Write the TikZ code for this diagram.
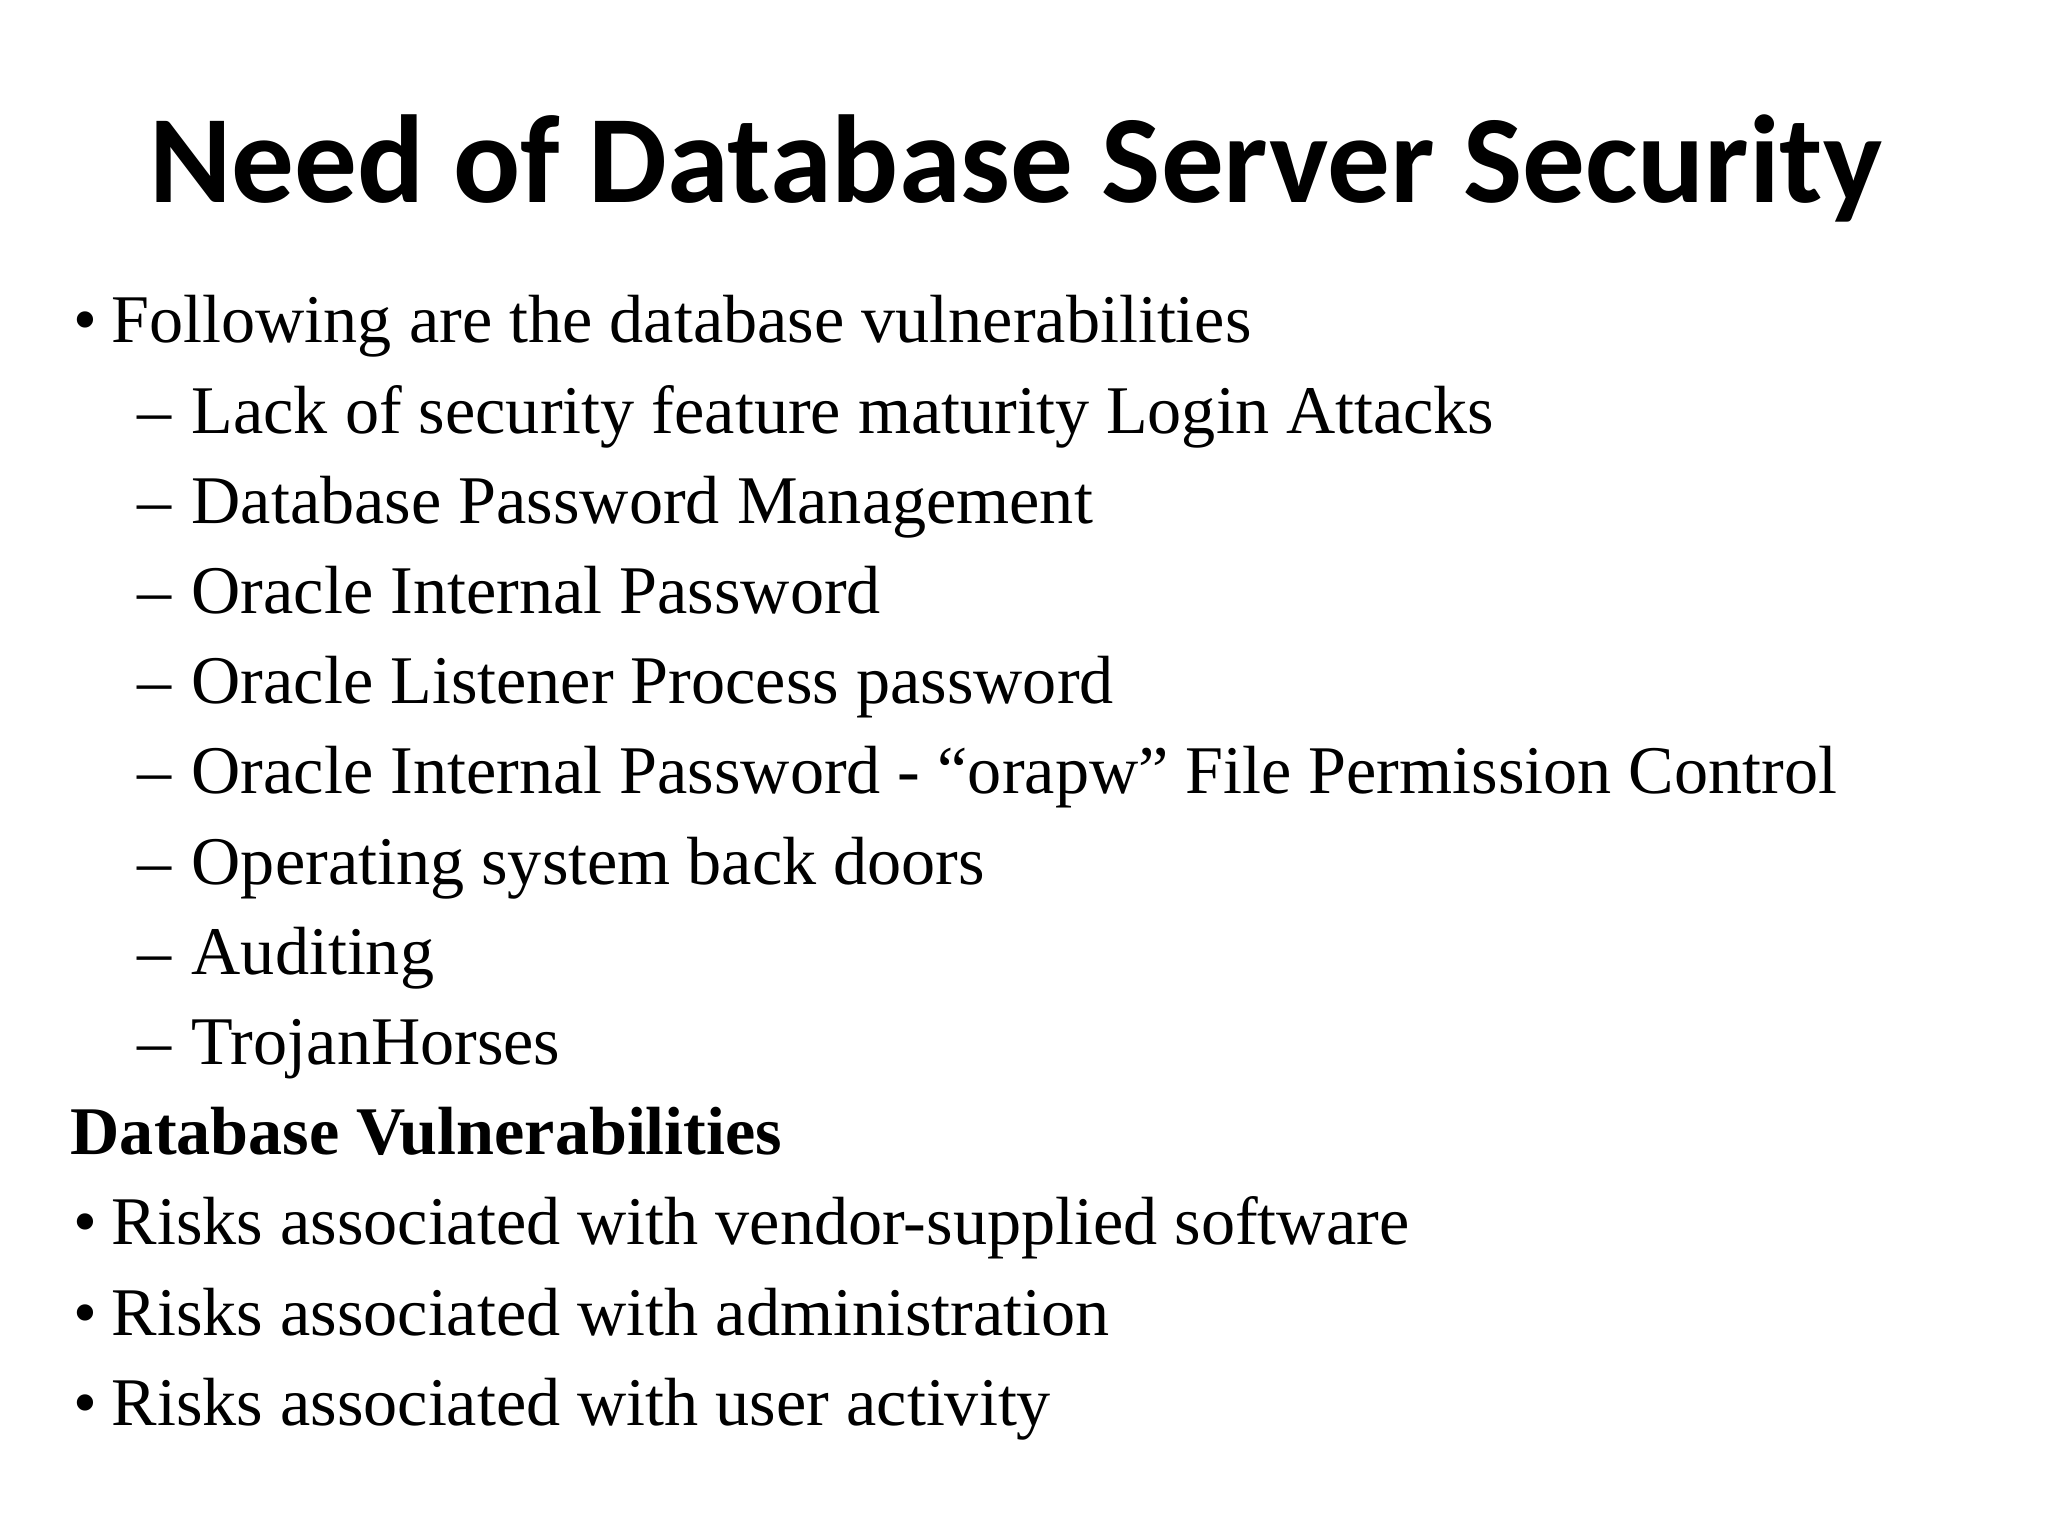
\documentclass[tikz,border=0pt]{standalone}
\usepackage{fontspec}
\setmainfont{Liberation Serif}
\newfontfamily\titlefont{Carlito}
\begin{document}
\begin{tikzpicture}[x=1cm,y=1cm,
  line/.style={anchor=base west,inner sep=0pt,font=\fontsize{19.4pt}{23pt}\selectfont}]
\useasboundingbox[fill=white] (0,0) rectangle (20.48,15.36);
\node[anchor=base,inner sep=0pt,font=\titlefont\bfseries\fontsize{35.6pt}{42pt}\selectfont] (title) at (10.16,13.33) {Need of Database Server Security};
\def\dy{0.902}
\node[line] (b1) at (0.73,11.93) {•};
\node[line] (t1) at (1.11,11.93) {Following are the database vulnerabilities};
\foreach \i/\t in {1/Lack of security feature maturity Login Attacks,2/Database Password Management,3/Oracle Internal Password,4/Oracle Listener Process password,5/Oracle Internal Password - “orapw” File Permission Control,6/Operating system back doors,7/Auditing,8/TrojanHorses}{
  \node[line] (d\i) at (1.37,11.93-\i*\dy) {–};
  \node[line] (s\i) at (1.91,11.93-\i*\dy) {\t};
}
\node[line,font=\bfseries\fontsize{19.4pt}{23pt}\selectfont] (h) at (0.70,11.93-9*\dy) {Database Vulnerabilities};
\foreach \i/\t in {10/Risks associated with vendor-supplied software,11/Risks associated with administration,12/Risks associated with user activity}{
  \node[line] (bb\i) at (0.73,11.93-\i*\dy) {•};
  \node[line] (r\i) at (1.11,11.93-\i*\dy) {\t};
}
\end{tikzpicture}
\end{document}
